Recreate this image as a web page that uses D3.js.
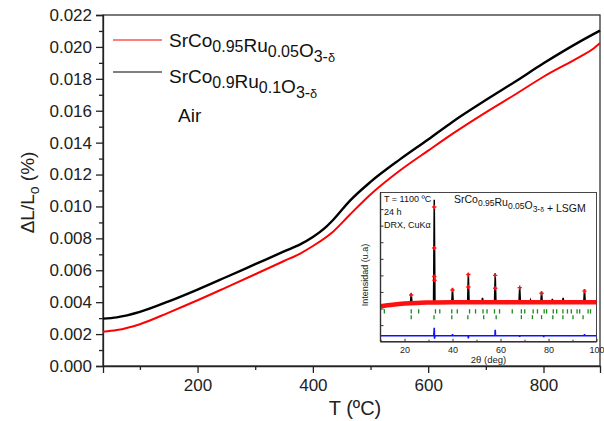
<!DOCTYPE html>
<html>
<head>
<meta charset="utf-8">
<script src="https://cdn.jsdelivr.net/npm/d3@7"></script>
<style>
  html, body { margin: 0; padding: 0; background: #fff; }
  svg { display: block; font-family: "Liberation Sans", Arial, sans-serif; }
</style>
</head>
<body>
<div id="chart"></div>
<script>
// Dilatometry curves, T (ºC) vs ΔL/Lo (%)
const tempRu005 = [36, 60, 100, 150, 200, 250, 300, 350, 378, 400, 435, 464, 500, 551, 600, 642, 700, 750, 800, 863, 885, 898];
const dlRu005 = [0.00215, 0.00225, 0.00262, 0.00335, 0.00412, 0.00493, 0.00575, 0.00658, 0.00705, 0.00752, 0.00842, 0.00948, 0.01075, 0.01225, 0.01350, 0.01455, 0.01590, 0.01700, 0.01813, 0.01938, 0.01985, 0.02025];
const tempRu01 = [36, 60, 100, 150, 200, 250, 300, 350, 378, 400, 420, 435, 464, 500, 551, 600, 642, 700, 750, 800, 863, 898];
const dlRu01 = [0.00297, 0.00305, 0.00339, 0.00405, 0.00479, 0.00558, 0.00638, 0.00718, 0.00762, 0.00808, 0.00862, 0.00915, 0.01035, 0.01154, 0.01295, 0.01420, 0.01530, 0.01667, 0.01780, 0.01897, 0.02033, 0.02102];

const yTicks = [0, 0.002, 0.004, 0.006, 0.008, 0.010, 0.012, 0.014, 0.016, 0.018, 0.020, 0.022];
const xTicks = [200, 400, 600, 800];

// Inset: XRD refinement (2θ vs intensity, u.a.)
const calcTheta = [10, 15, 20, 22.5, 22.8, 23.1, 28, 32.1, 32.4, 32.7, 39.7, 40.0, 40.3, 46.3, 46.6, 46.9, 52.2, 52.5, 52.8, 57.5, 57.8, 58.1, 67.7, 68.0, 68.3, 72.2, 72.5, 72.8, 76.8, 77.1, 77.4, 81.3, 81.6, 81.9, 85.8, 86.1, 86.4, 94.7, 95.0, 95.3, 100];
const calcInt = [216, 225, 232, 236, 292, 236, 238, 238, 856, 238, 238, 323, 238, 238, 413, 238, 238, 264, 238, 238, 413, 238, 238, 332, 238, 238, 252, 238, 238, 302, 238, 238, 258, 238, 238, 264, 238, 238, 318, 238, 238];
const obsBaseTheta = [10, 15, 20, 25, 30, 40, 60, 80, 100];
const obsBaseInt = [214, 223, 230, 234, 236, 238, 238, 238, 238];
const obsPeakTheta = [22.8, 32.4, 32.4, 32.4, 32.5, 40.0, 46.6, 46.6, 57.8, 57.8, 68.0, 77.1, 95.0];
const obsPeakInt = [282, 813, 565, 393, 371, 312, 405, 330, 400, 322, 326, 292, 305];
const braggLsgm = [11.6, 22.8, 25.9, 32.9, 34.7, 39.7, 42.0, 47.1, 49.6, 52.7, 54.4, 57.5, 59.6, 64.9, 68.7, 70.1, 73.6, 75.4, 78.2, 79.2, 82.0, 83.4, 86.0, 87.9, 89.5, 91.9, 93.0, 96.5, 97.5];
const braggPerov = [22.8, 32.3, 39.7, 46.4, 53.0, 58.2, 68.7, 73.3, 77.1, 81.8, 86.0, 90.2, 94.4];
const diffTheta = [10, 32.2, 32.4, 32.5, 32.7, 39.9, 40.0, 40.1, 46.5, 46.6, 46.7, 57.7, 57.8, 57.9, 58.0, 67.9, 68.0, 68.1, 77.9, 78.0, 78.1, 94.9, 95.0, 95.1, 100];
const diffInt = [36, 36, 84, 18, 36, 36, 46, 36, 36, 20, 36, 36, 72, 44, 36, 36, 30, 36, 36, 28, 36, 36, 46, 36, 36];
const insetXTicks = [20, 40, 60, 80, 100];

const width = 604, height = 421;
const margin = { left: 103, right: 4, top: 15, bottom: 55 };

const svg = d3.select("#chart").append("svg")
    .attr("width", width)
    .attr("height", height);

const x = d3.scaleLinear().domain([36, 898]).range([margin.left, width - margin.right]);
const y = d3.scaleLinear().domain([0, 0.022]).range([height - margin.bottom, margin.top]);

const axisColor = "#222";

// Frame
svg.append("rect")
    .attr("x", margin.left).attr("y", margin.top)
    .attr("width", width - margin.right - margin.left)
    .attr("height", height - margin.bottom - margin.top)
    .attr("fill", "none").attr("stroke", "#333").attr("stroke-width", 1.3);

// Y axis: major + minor
svg.append("g")
    .attr("transform", `translate(${margin.left},0)`)
    .call(d3.axisLeft(y).tickValues(yTicks).tickFormat(d3.format(".3f")).tickSize(7).tickPadding(4));
svg.append("g")
    .attr("transform", `translate(${margin.left},0)`)
    .call(d3.axisLeft(y).tickValues(d3.range(0.001, 0.022, 0.002)).tickFormat("").tickSize(4))
    .call(g => g.select(".domain").remove());

// X axis: major + minor
svg.append("g")
    .attr("transform", `translate(0,${height - margin.bottom})`)
    .call(d3.axisBottom(x).tickValues(xTicks).tickSize(7).tickPadding(6));
svg.append("g")
    .attr("transform", `translate(0,${height - margin.bottom})`)
    .call(d3.axisBottom(x).tickValues([100, 300, 500, 700]).tickFormat("").tickSize(4))
    .call(g => g.select(".domain").remove());

svg.selectAll(".tick line").attr("stroke", axisColor).attr("stroke-width", 1.3);
svg.selectAll(".domain").attr("stroke", axisColor).attr("stroke-width", 1.3);
svg.selectAll(".tick text")
    .attr("font-size", "17px")
    .attr("fill", "#222")
    .attr("font-family", "Liberation Sans, Arial, sans-serif");

// Axis titles
const yTitle = svg.append("text")
    .attr("transform", `translate(34,${(margin.top + height - margin.bottom) / 2 + 2}) rotate(-90)`)
    .attr("text-anchor", "middle")
    .attr("font-size", "19px")
    .attr("fill", "#222");
yTitle.append("tspan").text("ΔL/L");
yTitle.append("tspan").attr("font-size", "14px").attr("dy", 5).text("o");
yTitle.append("tspan").attr("dy", -5).text(" (%)");

svg.append("text")
    .attr("x", 355).attr("y", 415)
    .attr("text-anchor", "middle")
    .attr("font-size", "20px")
    .attr("fill", "#222")
    .text("T (ºC)");

// Curves
const line = d3.line().x(d => x(d[0])).y(d => y(d[1])).curve(d3.curveMonotoneX);
svg.append("path")
    .datum(d3.zip(tempRu005, dlRu005))
    .attr("d", line)
    .attr("fill", "none").attr("stroke", "#ff0000").attr("stroke-width", 2);
svg.append("path")
    .datum(d3.zip(tempRu01, dlRu01))
    .attr("d", line)
    .attr("fill", "none").attr("stroke", "#000").attr("stroke-width", 2.4);

// Chemical formula with subscripts
function formula(g, xPos, yPos, parts, size, subSize, shift) {
    const t = g.append("text").attr("x", xPos).attr("y", yPos)
        .attr("font-size", size + "px").attr("fill", "#111");
    parts.forEach(p => {
        const [txt, sub] = p;
        t.append("tspan").text(txt);
        if (sub) {
            const s = t.append("tspan").attr("font-size", subSize + "px").attr("dy", shift);
            sub.forEach(piece => {
                if (piece === "δ") s.append("tspan").attr("font-size", (subSize * 0.8) + "px").text("δ");
                else s.append("tspan").text(piece);
            });
            t.append("tspan").attr("dy", -shift).text("");
        }
    });
    return t;
}

const legend = svg.append("g");
legend.append("line").attr("x1", 113).attr("x2", 162).attr("y1", 40).attr("y2", 40)
    .attr("stroke", "#ff0000").attr("stroke-width", 1.2);
formula(legend, 169, 47, [["SrCo", ["0.95"]], ["Ru", ["0.05"]], ["O", ["3-", "δ"]]], 19, 16, 5);
legend.append("line").attr("x1", 113).attr("x2", 162).attr("y1", 72).attr("y2", 72)
    .attr("stroke", "#000").attr("stroke-width", 1.2);
formula(legend, 169, 83, [["SrCo", ["0.9"]], ["Ru", ["0.1"]], ["O", ["3-", "δ"]]], 19, 16, 5);
legend.append("text").attr("x", 178).attr("y", 122)
    .attr("font-size", "19px").attr("fill", "#111").text("Air");

// ---------------- Inset ----------------
const ix0 = 380.5, ix1 = 596.5, iy0 = 192.5, iy1 = 341.7;
const ix = d3.scaleLinear().domain([10, 100]).range([ix0, ix1]);
const iy = d3.scaleLinear().domain([0, 900]).range([iy1, iy0]);
const inset = svg.append("g");

inset.append("rect")
    .attr("x", ix0).attr("y", iy0).attr("width", ix1 - ix0).attr("height", iy1 - iy0)
    .attr("fill", "#fff").attr("stroke", "#333").attr("stroke-width", 0.9);

const insetLine = d3.line().x(d => ix(d[0])).y(d => iy(d[1]));

// Bragg positions
inset.selectAll(".bragg1").data(braggLsgm).enter().append("line")
    .attr("x1", d => ix(d)).attr("x2", d => ix(d))
    .attr("y1", iy(196)).attr("y2", iy(170))
    .attr("stroke", "#1a8a1a").attr("stroke-width", 1.3);
inset.selectAll(".bragg2").data(braggPerov).enter().append("line")
    .attr("x1", d => ix(d)).attr("x2", d => ix(d))
    .attr("y1", iy(160)).attr("y2", iy(136))
    .attr("stroke", "#1a8a1a").attr("stroke-width", 1.3);

// Difference
inset.append("path")
    .datum(d3.zip(diffTheta, diffInt))
    .attr("d", insetLine)
    .attr("fill", "none").attr("stroke", "#1010ff").attr("stroke-width", 1.6);

// Calculated
inset.append("path")
    .datum(d3.zip(calcTheta, calcInt))
    .attr("d", insetLine)
    .attr("fill", "none").attr("stroke", "#000").attr("stroke-width", 1.5);

// Observed
inset.append("path")
    .datum(d3.zip(obsBaseTheta, obsBaseInt))
    .attr("d", insetLine.curve(d3.curveMonotoneX))
    .attr("fill", "none").attr("stroke", "#ff1010").attr("stroke-width", 4.5);
inset.selectAll(".obs").data(d3.zip(obsPeakTheta, obsPeakInt)).enter().append("path")
    .attr("transform", d => `translate(${ix(d[0])},${iy(d[1])})`)
    .attr("d", d3.symbol(d3.symbolCross, 10))
    .attr("fill", "#ff1010");

// Inset axes
inset.append("g")
    .attr("transform", `translate(0,${iy1})`)
    .call(d3.axisBottom(ix).tickValues(insetXTicks).tickSize(-3).tickPadding(5))
    .call(g => g.select(".domain").remove());
inset.append("g")
    .attr("transform", `translate(0,${iy1})`)
    .call(d3.axisBottom(ix).tickValues([10, 30, 50, 70, 90]).tickFormat("").tickSize(-2))
    .call(g => g.select(".domain").remove());
inset.append("g")
    .attr("transform", `translate(${ix0},0)`)
    .call(d3.axisLeft(iy).tickValues(d3.range(100, 900, 100)).tickFormat("").tickSize(-3))
    .call(g => g.select(".domain").remove());
inset.append("line").attr("x1", ix0).attr("x2", ix0).attr("y1", iy0).attr("y2", iy1)
    .attr("stroke", "#333").attr("stroke-width", 1.4);
inset.append("line").attr("x1", ix0).attr("x2", ix1).attr("y1", iy1).attr("y2", iy1)
    .attr("stroke", "#333").attr("stroke-width", 1.4);
inset.selectAll(".tick line").attr("stroke", "#333").attr("stroke-width", 1);
inset.selectAll(".tick text").attr("font-size", "9px").attr("fill", "#222")
    .attr("font-family", "Liberation Sans, Arial, sans-serif");

inset.append("text")
    .attr("x", (ix0 + ix1) / 2).attr("y", 363)
    .attr("text-anchor", "middle").attr("font-size", "9.5px").attr("fill", "#222")
    .text("2θ (deg)");

inset.append("text")
    .attr("transform", `translate(368,${(iy0 + iy1) / 2 + 8}) rotate(-90)`)
    .attr("text-anchor", "middle").attr("font-size", "9px").attr("fill", "#222")
    .text("Intensidad (u.a)");

inset.append("text").attr("x", 384).attr("y", 202).attr("font-size", "9px").attr("fill", "#111").text("T = 1100 ºC");
inset.append("text").attr("x", 384).attr("y", 215).attr("font-size", "9px").attr("fill", "#111").text("24 h");
inset.append("text").attr("x", 384).attr("y", 228).attr("font-size", "9px").attr("fill", "#111").text("DRX, CuKα");

formula(inset, 454, 203, [["SrCo", ["0.95"]], ["Ru", ["0.05"]], ["O", ["3-", "δ"]], [" + LSGM", null]], 10.5, 8.5, 3);
</script>
</body>
</html>
